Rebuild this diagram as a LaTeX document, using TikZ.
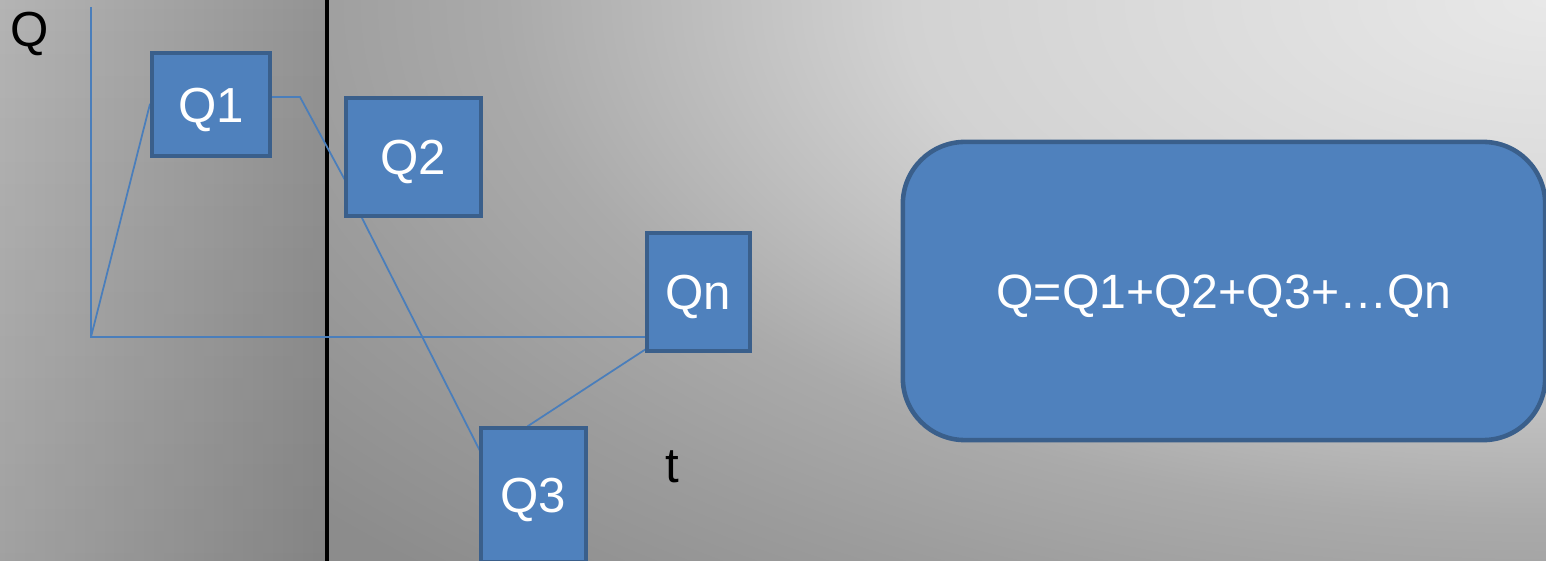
\documentclass[tikz,border=0pt]{standalone}
\usepackage{fontspec}
\setmainfont{Liberation Sans}
\usetikzlibrary{fadings}
\pgfdeclarelayer{bg}
\pgfdeclarelayer{links}
\pgfsetlayers{bg,links,main}

\definecolor{qfill}{HTML}{4F81BD}
\definecolor{qborder}{HTML}{3A5F8B}
\definecolor{linkblue}{HTML}{4A7EBB}
\definecolor{gA}{HTML}{E8E8E8}
\definecolor{gB}{HTML}{D2D2D2}
\definecolor{gC}{HTML}{AAAAAA}
\definecolor{gD}{HTML}{9C9C9C}
\definecolor{gE}{HTML}{8C8C8C}
\definecolor{panelleft}{HTML}{B4B4B4}
\definecolor{panelright}{HTML}{939393}

% soft glow from the upper right corner
\pgfdeclareradialshading{glow}{\pgfpoint{0bp}{0bp}}{%
  color(0bp)=(gA); color(10bp)=(gB); color(16.25bp)=(gC);
  color(20bp)=(gD); color(25bp)=(gE); color(50bp)=(gE)}

\tikzset{
  qtext/.style={font=\fontsize{14}{16}\selectfont, text height=10pt, text depth=0pt},
  qbox/.style={draw=qborder, fill=qfill, line width=1.2pt, inner sep=0pt,
               text=white, qtext},
  sumbox/.style={draw=qborder, fill=qfill, line width=1.3pt, inner sep=0pt,
                 text=white, font=\fontsize{13.7}{16}\selectfont,
                 text height=9.8pt, text depth=0pt, rounded corners=0.62cm},
  axislabel/.style={font=\fontsize{14}{16}\selectfont, text=black, inner sep=0pt, anchor=base},
  link/.style={draw=linkblue, line width=0.5pt},
}

\begin{document}
\begin{tikzpicture}[x=0.01cm, y=-0.01cm]
  \useasboundingbox (0,0) rectangle (1546,561);

  % backdrop
  \begin{pgfonlayer}{bg}
    \begin{scope}
      \clip (0,0) rectangle (1546,561);
      \fill[gE] (0,0) rectangle (1546,561);
      \shade[shading=glow] (1546,0) ellipse [x radius=1600, y radius=800];
      \shade[left color=panelleft, right color=panelright] (0,0) rectangle (327,561);
      \fill[black, fill opacity=0.1, path fading=north] (0,0) rectangle (327,561);
      \draw[line width=1.4pt, black] (327,0) -- (327,561);
    \end{scope}
  \end{pgfonlayer}

  % the amount boxes
  \node[qbox, minimum width=1.18cm, minimum height=1.03cm] (Q1) at (211,104.5) {Q1};
  \node[qbox, minimum width=1.35cm, minimum height=1.18cm] (Q2) at (413.5,157) {Q2};
  \node[qbox, minimum width=1.03cm, minimum height=1.18cm] (Qn) at (698.5,292) {Qn};
  \begin{scope}
    \clip (0,0) rectangle (1546,561);
    \node[qbox, minimum width=1.05cm, minimum height=1.34cm] (Q3) at (533.5,495) {Q3};
    \node[sumbox, minimum width=6.42cm, minimum height=2.98cm] (sum) at (1224,291)
      {Q=Q1+Q2+Q3+\ldots Qn};
  \end{scope}

  % axis labels
  \node[axislabel] (qlab) at (30,47) {Q};
  \node[axislabel] (tlab) at (672,482) {t};

  % axes and the broken line through the boxes
  \coordinate (O) at (91,337);
  \coordinate (ytop) at (91,7);
  \coordinate (k1) at (300,97);
  \coordinate (k2) at (346,182);
  \coordinate (k3) at (362,218);
  \coordinate (k4) at (480,451);
  \coordinate (k5) at (528,426);
  \coordinate (k6) at (646,349);
  \begin{pgfonlayer}{links}
    \draw[link] (ytop) -- (O) -- (O -| Qn.west);
    \draw[link] (O) -- (Q1.west) -- (Q1.center |- k1) -- (k1) -- (k2)
      -- (Q2.center) -- (k3) -- (k4) -- (Q3.center) -- (k5) -- (k6);
  \end{pgfonlayer}
\end{tikzpicture}
\end{document}
